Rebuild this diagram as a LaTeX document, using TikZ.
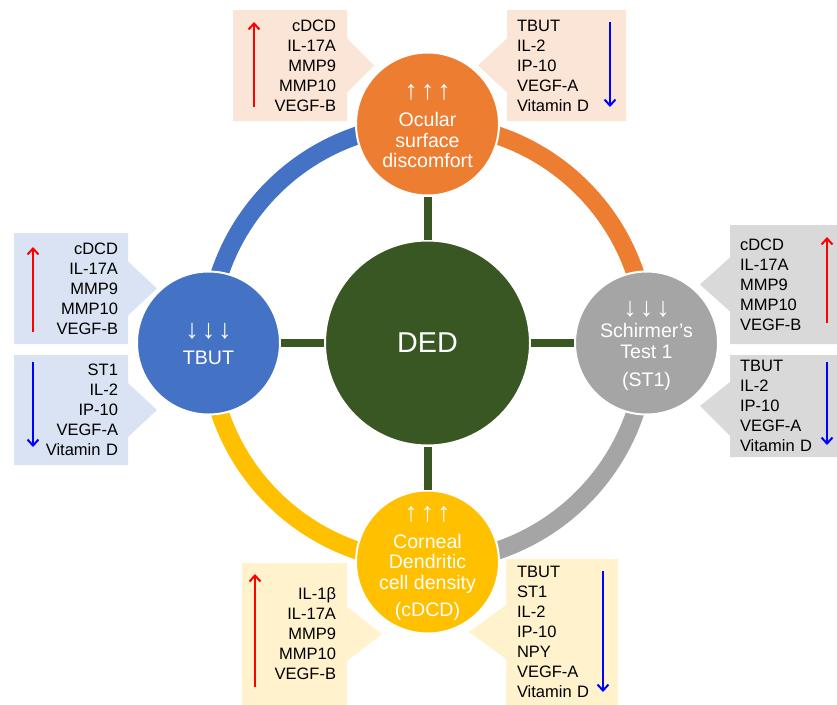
\documentclass[tikz,border=0pt]{standalone}
\usepackage{fontspec}
\setmainfont{Liberation Sans}
\usetikzlibrary{shapes.callouts,arrows.meta}
\definecolor{osdorange}{HTML}{ED7D31}
\definecolor{tbutblue}{HTML}{4472C4}
\definecolor{stgray}{HTML}{A5A5A5}
\definecolor{cdcdgold}{HTML}{FFC000}
\definecolor{dedgreen}{HTML}{385723}
\definecolor{osdpale}{HTML}{FBE5D6}
\definecolor{tbutpale}{HTML}{DAE3F3}
\definecolor{stpale}{HTML}{D9D9D9}
\definecolor{cdcdpale}{HTML}{FFF2CC}
\newcommand{\trend}[1]{{\fontsize{27}{20.5}\selectfont#1\hspace{3pt}#1\hspace{3pt}#1}}
\begin{document}
\begin{tikzpicture}[x=1pt,y=-1pt,
  sat/.style={circle,draw=white,line width=2pt,minimum size=143pt,inner sep=0pt},
  sattext/.style={text=white,align=center,inner sep=0pt,font=\fontsize{19.6}{20.5}\selectfont},
  rim/.style={line width=18pt},
  spoke/.style={draw=dedgreen,line width=8pt},
  tagbox/.style={rectangle callout,inner ysep=0pt,callout pointer width=54pt,font=\fontsize{16.5}{20}\selectfont},
  tagl/.style={tagbox,align=left},
  tagr/.style={tagbox,align=right},
  risearrow/.style={draw=red,line width=2pt,-{Straight Barb[length=6pt,width=11pt]}},
  fallarrow/.style={draw=blue,line width=2pt,-{Straight Barb[length=6pt,width=11pt]}}]
\useasboundingbox[fill=white] (0,0) rectangle (837,704);
\coordinate (hub) at (427.5,343);
\draw[rim,draw=tbutblue] (hub) ++(180:219) arc[start angle=180,end angle=270,radius=219];
\draw[rim,draw=osdorange] (hub) ++(270:219) arc[start angle=270,end angle=360,radius=219];
\draw[rim,draw=stgray] (hub) ++(0:219) arc[start angle=0,end angle=90,radius=219];
\draw[rim,draw=cdcdgold] (hub) ++(90:219) arc[start angle=90,end angle=180,radius=219];

\node[circle,fill=dedgreen,draw=white,line width=2pt,minimum size=205pt,text=white,font=\fontsize{28.7}{32}\selectfont] (ded) at (hub) {DED};
\node[sat,fill=osdorange] (osd) at (427.5,124) {};
\node[sat,fill=tbutblue] (tbut) at (208.5,343) {};
\node[sat,fill=stgray] (st) at (646.5,343) {};
\node[sat,fill=cdcdgold] (cdcd) at (427.5,562) {};
\draw[spoke] (ded) -- (osd);
\draw[spoke] (ded) -- (tbut);
\draw[spoke] (ded) -- (st);
\draw[spoke] (ded) -- (cdcd);

\node[sattext] (osd-t) at (427.5,126) {\trend{↑}\\[7pt]Ocular\\surface\\discomfort};
\node[sattext] (tbut-t) at (208.5,344) {\trend{↓}\\[5.5pt]TBUT};
\node[sattext] (st-t) at (646.5,346) {\trend{↓}\\[0.5pt]Schirmer's\\Test 1\\[7.5pt](ST1)};
\node[sattext] (cdcd-t) at (427.5,563) {\trend{↑}\\[6.5pt]Corneal\\Dendritic\\cell density\\[6.5pt](cDCD)};

\node[tagr,fill=osdpale,inner xsep=11pt,text width=92pt,minimum height=111pt,callout absolute pointer={(374,65.5)}] (osd-up) at (290,65.5) {cDCD\\IL-17A\\MMP9\\MMP10\\VEGF-B};
\node[tagl,fill=osdpale,inner xsep=10pt,text width=99pt,minimum height=111pt,callout absolute pointer={(478,65.5)}] (osd-down) at (566.5,65.5) {TBUT\\IL-2\\IP-10\\VEGF-A\\Vitamin D};
\node[tagr,fill=tbutpale,inner xsep=10pt,text width=94pt,minimum height=111pt,callout absolute pointer={(157,288.5)}] (tbut-up) at (71,288.5) {cDCD\\IL-17A\\MMP9\\MMP10\\VEGF-B};
\node[tagr,fill=tbutpale,inner xsep=10pt,text width=94pt,minimum height=110pt,callout absolute pointer={(157,410)}] (tbut-down) at (71,410) {ST1\\IL-2\\IP-10\\VEGF-A\\Vitamin D};
\node[tagl,fill=stpale,inner xsep=10pt,text width=95pt,minimum height=119pt,callout absolute pointer={(700,284.5)}] (st-up) at (787.5,284.5) {cDCD\\IL-17A\\MMP9\\MMP10\\VEGF-B};
\node[tagl,fill=stpale,inner xsep=10pt,text width=95pt,minimum height=102pt,callout absolute pointer={(700,406)}] (st-down) at (787.5,406) {TBUT\\IL-2\\IP-10\\VEGF-A\\Vitamin D};
\node[tagr,fill=cdcdpale,inner xsep=11pt,text width=83pt,minimum height=142pt,callout absolute pointer={(382,634)}] (cdcd-up) at (294.5,634) {IL-1β\\IL-17A\\MMP9\\MMP10\\VEGF-B};
\node[tagl,fill=cdcdpale,inner xsep=11pt,text width=90pt,minimum height=146pt,callout absolute pointer={(469,632)}] (cdcd-down) at (562,632) {TBUT\\ST1\\IL-2\\IP-10\\NPY\\VEGF-A\\Vitamin D};

\draw[risearrow] (254,107) -- (254,22);
\draw[fallarrow] (610,22) -- (610,107);
\draw[risearrow] (33,332) -- (33,247);
\draw[fallarrow] (33,362) -- (33,447);
\draw[risearrow] (827,323) -- (827,237);
\draw[fallarrow] (827,362) -- (827,445);
\draw[risearrow] (255,687) -- (255,574);
\draw[fallarrow] (603,571) -- (603,692);
\end{tikzpicture}
\end{document}
